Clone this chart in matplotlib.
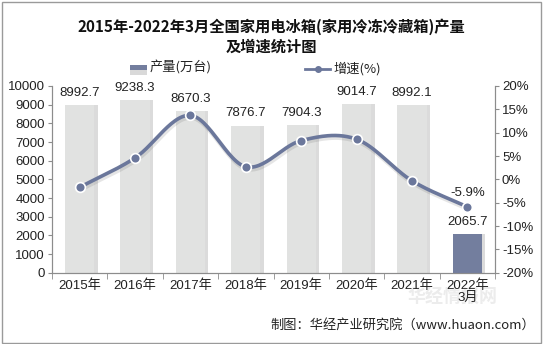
import matplotlib.pyplot as plt
import numpy as np
from matplotlib.patches import Rectangle
from matplotlib.lines import Line2D
from matplotlib.transforms import ScaledTranslation

plt.rcParams['font.family'] = ['Liberation Sans', 'Noto Sans CJK SC', 'DejaVu Sans']

# dados
anos = ['2015年', '2016年', '2017年', '2018年', '2019年', '2020年', '2021年', '2022年\n3月']
producao = [8992.7, 9238.3, 8670.3, 7876.7, 7904.3, 9014.7, 8992.1, 2065.7]
crescimento = [-1.7, 4.6, 13.7, 2.7, 8.3, 8.6, -0.3, -5.9]

cor_barra = '#e1e2e1'
cor_2022 = '#737e9e'
cor_linha = '#6b779b'
cor_eixo = '#8c8c8c'


# curva suave tipo Catmull-Rom (só para desenhar a linha)
def suavizar(xs, ys, n=30):
    xs = np.asarray(xs, float)
    ys = np.asarray(ys, float)
    px = np.concatenate([[2 * xs[0] - xs[1]], xs, [2 * xs[-1] - xs[-2]]])
    py = np.concatenate([[2 * ys[0] - ys[1]], ys, [2 * ys[-1] - ys[-2]]])
    out_x, out_y = [], []
    t = np.linspace(0, 1, n)
    for i in range(1, len(px) - 2):
        for arr, out in ((px, out_x), (py, out_y)):
            p0, p1, p2, p3 = arr[i - 1], arr[i], arr[i + 1], arr[i + 2]
            out.extend(0.5 * ((2 * p1) + (-p0 + p2) * t
                              + (2 * p0 - 5 * p1 + 4 * p2 - p3) * t ** 2
                              + (-p0 + 3 * p1 - 3 * p2 + p3) * t ** 3))
    return np.array(out_x), np.array(out_y)


fig = plt.figure(figsize=(5.43, 3.44), dpi=100)
fig.patches.append(Rectangle((0.004, 0.004), 0.992, 0.99, transform=fig.transFigure,
                             fill=False, edgecolor='#9a9a9a', linewidth=1.0))

# marca d'água (atrás de tudo)
fig.text(408 / 543, 1 - 297 / 344, '华经情报网', ha='left', va='center', fontsize=13, fontweight='bold',
         family=['Noto Sans CJK SC'], color='#ececec', zorder=-5)

ax = fig.add_axes([52 / 543, 1 - 272.7 / 344, 443 / 543, 186.7 / 344])
ax2 = ax.twinx()

x = np.arange(len(anos))
largura = 0.53
cores = [cor_barra] * (len(anos) - 1) + [cor_2022]

# sombra das barras
ax.bar(x + 0.06, producao, largura, color='#9a9a9a', alpha=0.35, zorder=1)
ax.bar(x, producao, largura, color=cores, zorder=2)
for xi, v in zip(x, producao):
    ax.text(xi, v + 330, f'{v:.1f}', ha='center', va='bottom', fontsize=9.5, color='#222222')

ax.set_ylim(0, 10000)
ax.set_yticks(np.arange(0, 10001, 1000))
ax.set_xlim(-0.5, len(anos) - 0.5)
ax.set_xticks(x)
ax.set_xticklabels(anos, fontsize=9.5, color='#222222', linespacing=0.95)
ax.set_xticks(np.arange(-0.5, len(anos), 1), minor=True)
ax.tick_params(axis='x', which='major', length=0, pad=5)
ax.tick_params(axis='x', which='minor', length=4, color=cor_eixo)
ax.tick_params(axis='y', labelsize=9.5, labelcolor='#222222', length=3, color=cor_eixo, pad=2)

# linha de crescimento
sx, sy = suavizar(x, crescimento)
sombra = ax2.transData + ScaledTranslation(1 / 100, -2 / 100, fig.dpi_scale_trans)
ax2.plot(sx, sy, color='#555555', alpha=0.15, linewidth=3.5, zorder=2, transform=sombra)
ax2.plot(sx, sy, color=cor_linha, linewidth=2.6, zorder=3, solid_capstyle='round')
ax2.plot(x, crescimento, 'o', color=cor_linha, markersize=7, markeredgecolor='white',
         markeredgewidth=1.2, zorder=4)
ax2.text(x[-1], crescimento[-1] + 1.6, f'{crescimento[-1]:.1f}%', ha='center', va='bottom',
         fontsize=9.5, color='#222222')
ax2.set_ylim(-20, 20)
ax2.set_yticks(np.arange(-20, 21, 5))
ax2.set_yticklabels([f'{v}%' for v in range(-20, 21, 5)])
ax2.tick_params(axis='y', labelsize=9.5, labelcolor='#222222', length=3, color=cor_eixo, pad=2)

for a in (ax, ax2):
    a.spines['top'].set_visible(False)
    for lado in ('left', 'right', 'bottom'):
        a.spines[lado].set_color(cor_eixo)

# título
fig.text(0.5, 1 - 27 / 344, '2015年-2022年3月全国家用电冰箱(家用冷冻冷藏箱)产量', ha='center', va='center',
         fontsize=11, fontweight='bold', family=['Noto Sans CJK SC'], color='#111111')
fig.text(0.5, 1 - 47 / 344, '及增速统计图', ha='center', va='center',
         fontsize=11, fontweight='bold', family=['Noto Sans CJK SC'], color='#111111')

# legenda
fig.patches.append(Rectangle((130 / 543, 1 - 70 / 344), 17 / 543, 5 / 344, transform=fig.transFigure,
                             facecolor=cor_2022, edgecolor='none'))
fig.patches.append(Rectangle((130 / 543, 1 - 75 / 344), 17 / 543, 5 / 344, transform=fig.transFigure,
                             facecolor='#d9d9d9', edgecolor='none'))
fig.text(150 / 543, 1 - 68 / 344, '产量(万台)', ha='left', va='center', fontsize=9.5,
         family=['Noto Sans CJK SC'], color='#222222')
fig.lines.append(Line2D([305 / 543, 330 / 543], [1 - 69 / 344, 1 - 69 / 344], transform=fig.transFigure,
                        color=cor_linha, linewidth=2))
fig.lines.append(Line2D([318 / 543], [1 - 69 / 344], transform=fig.transFigure, color=cor_linha,
                        marker='o', markersize=4, linestyle='none'))
fig.text(333 / 543, 1 - 69 / 344, '增速(%)', ha='left', va='center', fontsize=9.5,
         family=['Noto Sans CJK SC'], color='#222222')

# fonte
fig.text(535 / 543, 1 - 325 / 344, '制图：华经产业研究院（www.huaon.com）', ha='right', va='center',
         fontsize=9.5, family=['Noto Sans CJK SC'], color='#222222')

fig.savefig('out.png', dpi=100)
